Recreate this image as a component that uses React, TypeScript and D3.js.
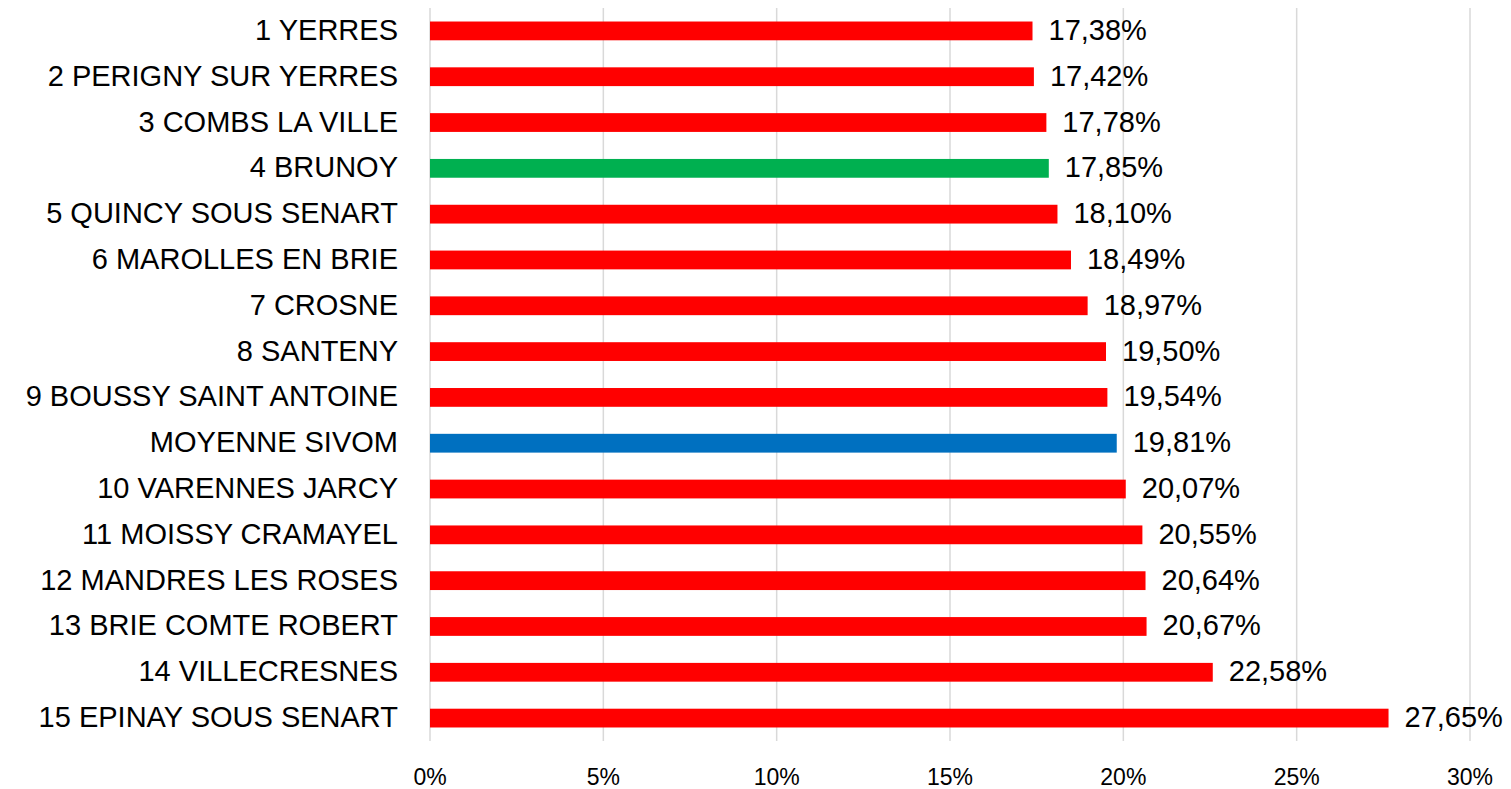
import React from "react";
import * as d3 from "d3";

const categories: string[] = [
  "1 YERRES",
  "2 PERIGNY SUR YERRES",
  "3 COMBS LA VILLE",
  "4 BRUNOY",
  "5 QUINCY SOUS SENART",
  "6 MAROLLES EN BRIE",
  "7 CROSNE",
  "8 SANTENY",
  "9 BOUSSY SAINT ANTOINE",
  "MOYENNE SIVOM",
  "10 VARENNES JARCY",
  "11 MOISSY CRAMAYEL",
  "12 MANDRES LES ROSES",
  "13 BRIE COMTE ROBERT",
  "14 VILLECRESNES",
  "15 EPINAY SOUS SENART",
];

const values: number[] = [
  17.38, 17.42, 17.78, 17.85, 18.1, 18.49, 18.97, 19.5, 19.54, 19.81, 20.07,
  20.55, 20.64, 20.67, 22.58, 27.65,
];

const highlightGreen: string[] = ["4 BRUNOY"];
const highlightBlue: string[] = ["MOYENNE SIVOM"];

const xTicks: number[] = [0, 5, 10, 15, 20, 25, 30];

const WIDTH = 1511;
const HEIGHT = 789;
const FONT = "'Liberation Sans', Arial, sans-serif";

export default function App() {
  const x = d3.scaleLinear().domain([0, 30]).range([430, 1470]);
  const y = d3
    .scaleBand<string>()
    .domain(categories)
    .range([8, 741])
    .paddingInner(0.59)
    .paddingOuter(0.295);

  const fmt = (v: number) => d3.format(".2f")(v).replace(".", ",") + "%";
  const color = (c: string) =>
    highlightGreen.includes(c)
      ? "#00B050"
      : highlightBlue.includes(c)
      ? "#0070C0"
      : "#FF0000";

  return (
    <svg
      width={WIDTH}
      height={HEIGHT}
      style={{ position: "absolute", left: 0, top: 0, background: "#fff" }}
      fontFamily={FONT}
    >
      {xTicks.map((t) => (
        <line
          key={"g" + t}
          x1={x(t)}
          x2={x(t)}
          y1={8}
          y2={741}
          stroke="#D9D9D9"
          strokeWidth={1.5}
        />
      ))}
      {xTicks.map((t) => (
        <text
          key={"t" + t}
          x={x(t)}
          y={785}
          textAnchor="middle"
          fontSize={23}
          fill="#000"
        >
          {t + "%"}
        </text>
      ))}
      {categories.map((c, i) => {
        const by = y(c)!;
        const bh = y.bandwidth();
        const cy = by + bh / 2;
        return (
          <g key={c}>
            <rect
              x={x(0)}
              y={by}
              width={x(values[i]) - x(0)}
              height={bh}
              fill={color(c)}
            />
            <text
              x={398}
              y={cy + 9}
              textAnchor="end"
              fontSize={29}
              fill="#000"
            >
              {c}
            </text>
            <text
              x={x(values[i]) + 16}
              y={cy + 9}
              textAnchor="start"
              fontSize={29}
              fill="#000"
            >
              {fmt(values[i])}
            </text>
          </g>
        );
      })}
    </svg>
  );
}
